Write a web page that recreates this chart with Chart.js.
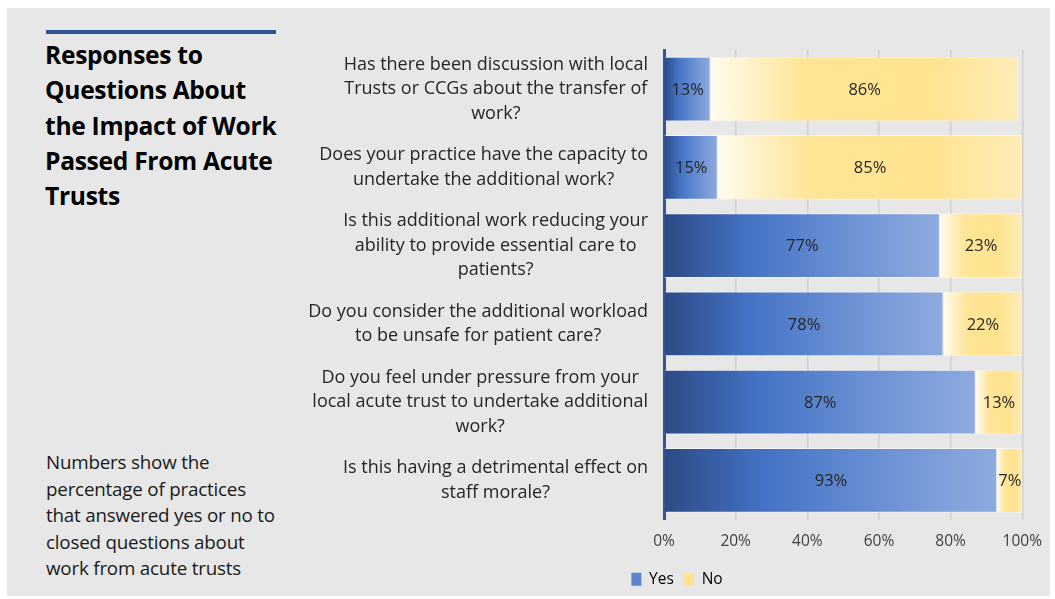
<!DOCTYPE html>
<html>
<head>
<meta charset="utf-8">
<script src="https://cdn.jsdelivr.net/npm/chart.js@4"></script>
<style>
  html, body { margin: 0; padding: 0; background: #ffffff; }
  body { width: 1055px; height: 599px; position: relative; overflow: hidden; font-family: "Open Sans", Lato, sans-serif; }
  .panel { position: absolute; left: 7px; top: 8px; width: 1043px; height: 588px; background: #e7e7e7; }
  .rule { position: absolute; left: 46px; top: 30px; width: 230px; height: 4px; background: #2f5597; }
  .title { position: absolute; left: 45px; top: 37px; font-size: 24.6px; font-weight: 700; line-height: 35.3px; color: #000; letter-spacing: -0.3px; }
  .note { position: absolute; left: 46px; top: 449px; font-size: 18.8px; line-height: 26.5px; color: #1a1a1a; letter-spacing: -0.2px; }
  #wrap { position: absolute; left: 0; top: 0; width: 1055px; height: 599px; }
</style>
</head>
<body>
<div class="panel"></div>
<div class="rule"></div>
<div class="title">Responses to<br>Questions About<br>the Impact of Work<br>Passed From Acute<br>Trusts</div>
<div class="note">Numbers show the<br>percentage of practices<br>that answered yes or no to<br>closed questions about<br>work from acute trusts</div>
<div id="wrap"><canvas id="chart" width="1055" height="599"></canvas></div>

<script>
/* ─── Responses to questions about work passed from acute trusts ─── */

const questions = [
  ['Has there been discussion with local', 'Trusts or CCGs about the transfer of', 'work?'],
  ['Does your practice have the capacity to', 'undertake the additional work?'],
  ['Is this additional work reducing your', 'ability to provide essential care to', 'patients?'],
  ['Do you consider the additional workload', 'to be unsafe for patient care?'],
  ['Do you feel under pressure from your', 'local acute trust to undertake additional', 'work?'],
  ['Is this having a detrimental effect on', 'staff morale?']
];
const yesValues = [13, 15, 77, 78, 87, 93];
const noValues  = [86, 85, 23, 22, 13, 7];
const seriesNames = ['Yes', 'No'];
const xTicks = [0, 20, 40, 60, 80, 100];

const FONT = '"Open Sans", Lato, sans-serif';

function barGradient(ctx, startVal, endVal, stops, fallback) {
  const chart = ctx.chart;
  if (!chart.chartArea || !chart.scales.x || ctx.type !== 'data') return fallback;
  const x = chart.scales.x;
  const x0 = x.getPixelForValue(startVal);
  const x1 = x.getPixelForValue(endVal);
  if (!isFinite(x0) || !isFinite(x1) || x1 - x0 < 1) return fallback;
  const g = chart.ctx.createLinearGradient(x0, 0, x1, 0);
  stops.forEach(s => g.addColorStop(s[0], s[1]));
  return g;
}

const YES_STOPS = [[0, '#2b4a85'], [0.3, '#4472c4'], [0.65, '#6a90d4'], [1, '#8eabde']];
const NO_STOPS  = [[0, '#fffcf0'], [0.3, '#ffe597'], [0.7, '#ffe38f'], [1, '#ffedb8']];

// Category labels: each block centred on its own widest line, right edge by the axis
const questionLabels = {
  id: 'questionLabels',
  afterDraw(chart) {
    const y = chart.scales.y;
    const c = chart.ctx;
    const right = chart.chartArea.left - 16;
    const lh = 24.5;
    c.save();
    c.font = '18px ' + FONT;
    c.fillStyle = '#262626';
    c.textAlign = 'center';
    c.textBaseline = 'middle';
    questions.forEach((lines, i) => {
      const yc = y.getPixelForTick(i);
      const w = Math.max(...lines.map(l => c.measureText(l).width));
      const cx = right - w / 2;
      lines.forEach((l, j) => {
        c.fillText(l, cx, yc + (j - (lines.length - 1) / 2) * lh);
      });
    });
    c.restore();
  }
};

// Percent labels in the middle of each bar segment
const valueLabels = {
  id: 'valueLabels',
  afterDatasetsDraw(chart) {
    const c = chart.ctx;
    c.save();
    c.font = '16.5px ' + FONT;
    c.fillStyle = '#262626';
    c.textAlign = 'center';
    c.textBaseline = 'middle';
    chart.data.datasets.forEach((ds, di) => {
      chart.getDatasetMeta(di).data.forEach((el, i) => {
        const p = el.getProps(['x', 'y', 'base'], true);
        c.fillText(ds.data[i] + '%', (p.x + p.base) / 2, p.y + 1);
      });
    });
    c.restore();
  }
};

new Chart(document.getElementById('chart'), {
  type: 'bar',
  data: {
    labels: questions.map(q => q.join(' ')),
    datasets: [
      {
        label: seriesNames[0],
        data: yesValues,
        backgroundColor: ctx => barGradient(ctx, 0, yesValues[ctx.dataIndex], YES_STOPS, '#4472c4'),
        borderColor: 'rgba(255,255,255,0.55)',
        borderWidth: 1,
        categoryPercentage: 1,
        barPercentage: 0.83
      },
      {
        label: seriesNames[1],
        data: noValues,
        backgroundColor: ctx => barGradient(ctx, yesValues[ctx.dataIndex],
          yesValues[ctx.dataIndex] + noValues[ctx.dataIndex], NO_STOPS, '#ffe38f'),
        borderColor: 'rgba(255,255,255,0.55)',
        borderWidth: 1,
        categoryPercentage: 1,
        barPercentage: 0.83
      }
    ]
  },
  options: {
    indexAxis: 'y',
    responsive: false,
    animation: false,
    events: [],
    layout: { padding: { left: 330, right: 31, top: 50, bottom: 2 } },
    scales: {
      x: {
        stacked: true,
        min: 0,
        max: 100,
        afterBuildTicks: s => { s.ticks = xTicks.map(v => ({ value: v })); },
        afterFit: s => { s.height = 42; },
        grid: { color: '#d0d0d0', lineWidth: 1.5, drawTicks: false },
        border: { display: false },
        ticks: {
          padding: 13,
          color: '#404040',
          font: { family: FONT, size: 15.5 },
          callback: v => v + '%'
        }
      },
      y: {
        stacked: true,
        afterFit: s => { s.width = 334; },
        grid: { display: false },
        border: { color: '#2f5597', width: 3 },
        ticks: { display: false }
      }
    },
    plugins: {
      legend: {
        position: 'bottom',
        labels: {
          color: '#404040',
          font: { family: FONT, size: 15.5 },
          boxWidth: 10,
          boxHeight: 13,
          padding: 10,
          generateLabels: () => [
            { text: seriesNames[0], fillStyle: '#5b84cf', strokeStyle: '#5b84cf', lineWidth: 0, datasetIndex: 0 },
            { text: seriesNames[1], fillStyle: '#ffe38f', strokeStyle: '#ffe38f', lineWidth: 0, datasetIndex: 1 }
          ]
        }
      },
      tooltip: { enabled: false }
    }
  },
  plugins: [questionLabels, valueLabels]
});
</script>
</body>
</html>
